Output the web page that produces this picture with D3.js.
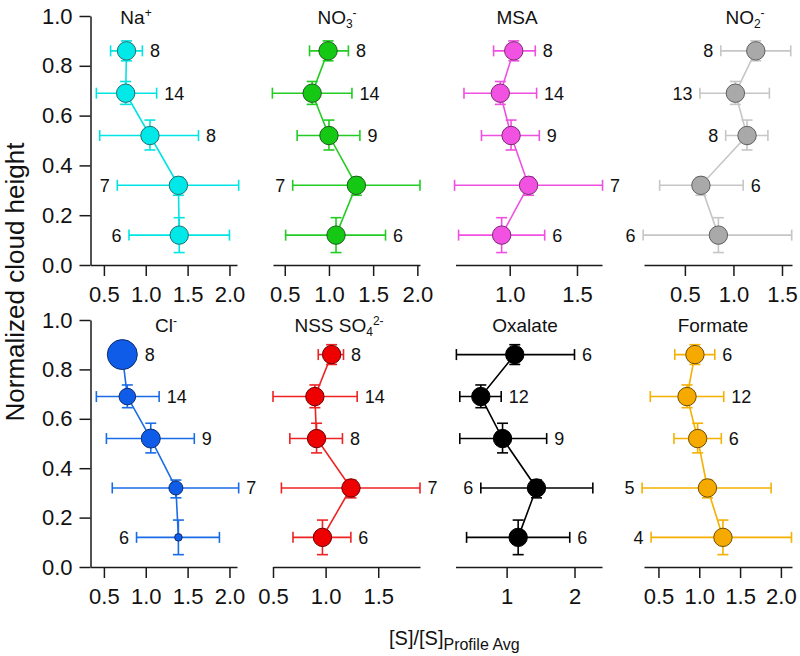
<!DOCTYPE html>
<html><head><meta charset="utf-8">
<script src="https://cdn.jsdelivr.net/npm/d3@7"></script>
<style>body{margin:0;background:#fff}svg{display:block}text{font-family:"Liberation Sans",Arial,sans-serif;fill:#111}</style>
</head><body><svg id="c" width="800" height="656"></svg>
<script>
// ---------- DATA ----------
const heights = [0.86, 0.69, 0.52, 0.32, 0.12];
const heightLow = [0.82, 0.645, 0.462, 0.28, 0.05];
const heightHigh = [0.90, 0.737, 0.582, 0.352, 0.19];
const yTicks = [0, 0.2, 0.4, 0.6, 0.8, 1.0];

const naMean = [0.77, 0.76, 1.05, 1.39, 1.40];
const naLow  = [0.58, 0.41, 0.45, 0.66, 0.80];
const naHigh = [0.96, 1.13, 1.63, 2.11, 2.00];
const naN    = [8, 14, 8, 7, 6];
const naSide = ["R", "R", "R", "L", "L"];

const no3Mean = [0.99, 0.81, 1.00, 1.31, 1.08];
const no3Low  = [0.78, 0.36, 0.64, 0.59, 0.51];
const no3High = [1.22, 1.26, 1.35, 2.03, 1.64];
const no3N    = [8, 14, 9, 7, 6];
const no3Side = ["R", "R", "R", "L", "R"];

const msaMean = [1.03, 0.93, 1.01, 1.14, 0.94];
const msaLow  = [0.88, 0.66, 0.79, 0.59, 0.62];
const msaHigh = [1.19, 1.20, 1.22, 1.69, 1.26];
const msaN    = [8, 14, 9, 7, 6];
const msaSide = ["R", "R", "R", "R", "R"];

const no2Mean = [1.23, 1.02, 1.14, 0.665, 0.845];
const no2Low  = [0.87, 0.655, 0.92, 0.24, 0.07];
const no2High = [1.59, 1.37, 1.355, 1.10, 1.60];
const no2N    = [8, 13, 8, 6, 6];
const no2Side = ["L", "L", "L", "R", "L"];

const clMean = [0.72, 0.78, 1.06, 1.36, 1.39];
const clLow  = [0.62, 0.41, 0.53, 0.60, 0.89];
const clHigh = [0.82, 1.16, 1.58, 2.11, 1.88];
const clN    = [8, 14, 9, 7, 6];
const clSide = ["R", "R", "R", "R", "L"];

const nssMean = [1.057, 0.898, 0.914, 1.241, 0.97];
const nssLow  = [0.93, 0.50, 0.66, 0.58, 0.69];
const nssHigh = [1.17, 1.30, 1.16, 1.897, 1.24];
const nssN    = [8, 14, 8, 7, 6];
const nssSide = ["R", "R", "R", "R", "R"];

const oxMean = [1.12, 0.62, 0.94, 1.44, 1.17];
const oxLow  = [0.26, 0.31, 0.31, 0.62, 0.41];
const oxHigh = [2.00, 0.92, 1.59, 2.27, 1.93];
const oxN    = [6, 12, 9, 6, 6];
const oxSide = ["R", "R", "R", "L", "R"];

const fmMean = [0.947, 0.85, 0.98, 1.10, 1.29];
const fmLow  = [0.70, 0.40, 0.69, 0.30, 0.41];
const fmHigh = [1.19, 1.30, 1.27, 1.88, 2.13];
const fmN    = [6, 12, 6, 5, 4];
const fmSide = ["R", "R", "R", "L", "L"];

const ticksA = [0.5, 1.0, 1.5, 2.0];
const ticksMSA = [1.0, 1.5];
const ticksNO2 = [0.5, 1.0, 1.5];
const ticksNSS = [0.5, 1.0, 1.5];
const ticksOx = [1, 2];

// ---------- LAYOUT / STYLE ----------
const rows = [{y0: 265, y1: 16, ty: 24}, {y0: 567, y1: 320, ty: 332}];
const cols = [[90.5, 237], [273, 420], [455.5, 602], [644, 792]];
const clRadii = [15, 8.3, 9.5, 7, 3.8];

const panels = [
  {title:[["Na",""],["+","sup"]], mean:naMean, lo:naLow, hi:naHigh, n:naN, side:naSide, ticks:ticksA, fmt:".1f", dom:[0.34,2.09], row:0, col:0, tx:136, line:"#00e4e4", fill:"#00e8e8", stroke:"#236e6e"},
  {title:[["NO",""],["3","sub"],["-","sup"]], mean:no3Mean, lo:no3Low, hi:no3High, n:no3N, side:no3Side, ticks:ticksA, fmt:".1f", dom:[0.367,2.03], row:0, col:1, tx:337, line:"#22cc22", fill:"#14c814", stroke:"#1c5a1c"},
  {title:[["MSA",""]], mean:msaMean, lo:msaLow, hi:msaHigh, n:msaN, side:msaSide, ticks:ticksMSA, fmt:".1f", dom:[0.597,1.686], row:0, col:2, tx:517, line:"#f050e0", fill:"#f252e2", stroke:"#7a2a72"},
  {title:[["NO",""],["2","sub"],["-","sup"]], mean:no2Mean, lo:no2Low, hi:no2High, n:no2N, side:no2Side, ticks:ticksNO2, fmt:".1f", dom:[0.079,1.603], row:0, col:3, tx:745, line:"#c6c6c6", fill:"#a9a9a9", stroke:"#5e5e5e"},
  {title:[["Cl",""],["-","sup"]], mean:clMean, lo:clLow, hi:clHigh, n:clN, side:clSide, ticks:ticksA, fmt:".1f", dom:[0.34,2.09], row:1, col:0, tx:166, line:"#1a6ce6", fill:"#0f5ce8", stroke:"#0c2c6e", radii:clRadii},
  {title:[["NSS SO",""],["4","sub"],["2-","sup"]], mean:nssMean, lo:nssLow, hi:nssHigh, n:nssN, side:nssSide, ticks:ticksNSS, fmt:".1f", dom:[0.5,1.897], row:1, col:1, tx:339, line:"#ee2222", fill:"#ee0000", stroke:"#6e0000"},
  {title:[["Oxalate",""]], mean:oxMean, lo:oxLow, hi:oxHigh, n:oxN, side:oxSide, ticks:ticksOx, fmt:"d", dom:[0.247,2.405], row:1, col:2, tx:525, line:"#000000", fill:"#000000", stroke:"#000000"},
  {title:[["Formate",""]], mean:fmMean, lo:fmLow, hi:fmHigh, n:fmN, side:fmSide, ticks:ticksA, fmt:".1f", dom:[0.323,2.136], row:1, col:3, tx:713, line:"#f5b000", fill:"#f6aa00", stroke:"#6e4c00"}
];

const svg = d3.select("#c");
const R = 9.2, CAP = 5.5, GAP = 7.5;

panels.forEach(p => {
  const row = rows[p.row];
  const [xa, xb] = cols[p.col];
  const x = d3.scaleLinear().domain(p.dom).range([xa, xb]);
  const y = d3.scaleLinear().domain([0, 1]).range([row.y0, row.y1]);
  const g = svg.append("g");

  // x axis
  const xAx = g.append("g").attr("transform", `translate(0,${row.y0})`)
    .call(d3.axisBottom(x).tickValues(p.ticks).tickFormat(d3.format(p.fmt)).tickSize(11).tickSizeOuter(0).tickPadding(10));
  xAx.select(".domain").attr("stroke", "#1a1a1a").attr("stroke-width", 1.5);
  xAx.selectAll(".tick line").attr("stroke", "#1a1a1a").attr("stroke-width", 1.5);
  xAx.selectAll("text").attr("font-size", 22).attr("fill", "#111").style("font-family", "Liberation Sans, Arial, sans-serif");

  if (p.col === 0) {
    const yAx = g.append("g").attr("transform", `translate(${xa},0)`)
      .call(d3.axisLeft(y).tickValues(yTicks).tickFormat(d3.format(".1f")).tickSize(11).tickSizeOuter(0).tickPadding(7));
    yAx.select(".domain").attr("stroke", "#1a1a1a").attr("stroke-width", 1.5);
    yAx.selectAll(".tick line").attr("stroke", "#1a1a1a").attr("stroke-width", 1.5);
    yAx.selectAll("text").attr("font-size", 22).attr("fill", "#111").style("font-family", "Liberation Sans, Arial, sans-serif");
  }

  const pts = heights.map((h, i) => ({h, m: p.mean[i], lo: p.lo[i], hi: p.hi[i], hl: heightLow[i], hh: heightHigh[i], n: p.n[i], side: p.side[i], r: p.radii ? p.radii[i] : R}));

  // connecting line
  g.append("path").datum(pts)
    .attr("d", d3.line().x(d => x(d.m)).y(d => y(d.h)))
    .attr("fill", "none").attr("stroke", p.line).attr("stroke-width", 1.6);

  // error bars
  const eb = g.append("g").attr("stroke", p.line).attr("stroke-width", 1.6).attr("fill", "none");
  pts.forEach(d => {
    eb.append("line").attr("x1", x(d.lo)).attr("x2", x(d.hi)).attr("y1", y(d.h)).attr("y2", y(d.h));
    eb.append("line").attr("x1", x(d.lo)).attr("x2", x(d.lo)).attr("y1", y(d.h) - CAP).attr("y2", y(d.h) + CAP);
    eb.append("line").attr("x1", x(d.hi)).attr("x2", x(d.hi)).attr("y1", y(d.h) - CAP).attr("y2", y(d.h) + CAP);
    eb.append("line").attr("x1", x(d.m)).attr("x2", x(d.m)).attr("y1", y(d.hl)).attr("y2", y(d.hh));
    eb.append("line").attr("x1", x(d.m) - CAP).attr("x2", x(d.m) + CAP).attr("y1", y(d.hl)).attr("y2", y(d.hl));
    eb.append("line").attr("x1", x(d.m) - CAP).attr("x2", x(d.m) + CAP).attr("y1", y(d.hh)).attr("y2", y(d.hh));
  });

  // markers
  g.selectAll("circle").data(pts).join("circle")
    .attr("cx", d => x(d.m)).attr("cy", d => y(d.h)).attr("r", d => d.r)
    .attr("fill", p.fill).attr("stroke", p.stroke).attr("stroke-width", 1);

  // count labels
  g.selectAll("text.n").data(pts).join("text").attr("class", "n")
    .attr("x", d => d.side === "R" ? Math.max(x(d.hi), x(d.m) + d.r) + GAP : Math.min(x(d.lo), x(d.m) - d.r) - GAP)
    .attr("y", d => y(d.h)).attr("dy", "0.36em")
    .attr("text-anchor", d => d.side === "R" ? "start" : "end")
    .attr("font-size", 18).text(d => d.n);

  // title
  const t = g.append("text").attr("x", p.tx).attr("y", row.ty).attr("text-anchor", "middle").attr("font-size", 19);
  p.title.forEach(([s, k]) => {
    const sp = t.append("tspan").text(s);
    if (k === "sup") sp.attr("font-size", 12).attr("baseline-shift", "55%");
    if (k === "sub") sp.attr("font-size", 12).attr("baseline-shift", "-30%");
  });
});

// axis titles
svg.append("text").attr("transform", "translate(24,282) rotate(-90)").attr("text-anchor", "middle")
  .attr("font-size", 26).text("Normalized cloud height");
const xt = svg.append("text").attr("x", 389).attr("y", 645).attr("font-size", 20);
xt.append("tspan").text("[S]/[S]");
xt.append("tspan").attr("font-size", 16).attr("dy", 5).text("Profile Avg");
</script></body></html>
